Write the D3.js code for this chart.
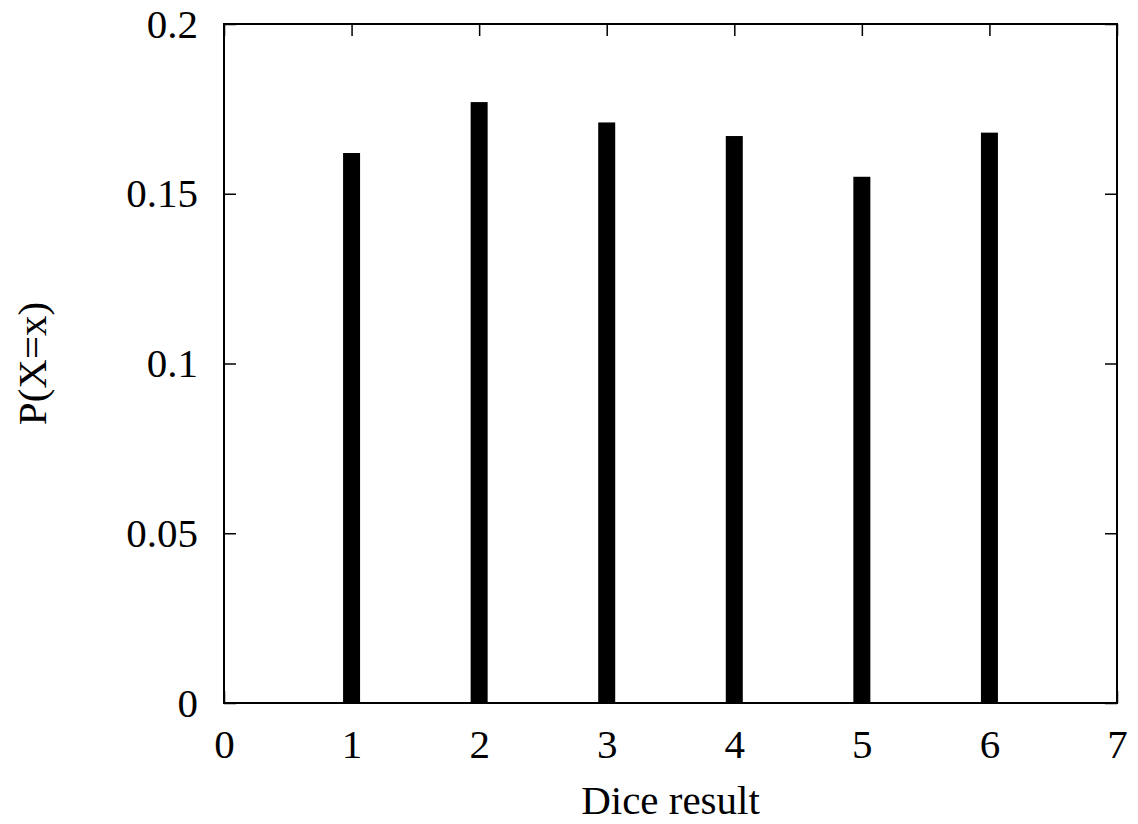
<!DOCTYPE html>
<html>
<head>
<meta charset="utf-8">
<script src="https://d3js.org/d3.v7.min.js"></script>
<style>
  body { margin: 0; background: #fff; }
  text { font-family: "Liberation Serif", "Times New Roman", serif; fill: #000; }
</style>
</head>
<body>
<div id="chart"></div>
<script>
// dice outcomes and their observed relative frequencies
const faces = [1, 2, 3, 4, 5, 6];
const probs = [0.162, 0.177, 0.171, 0.167, 0.155, 0.168];
const xTicks = [0, 1, 2, 3, 4, 5, 6, 7];
const yTicks = [0, 0.05, 0.1, 0.15, 0.2];

const width = 1138, height = 824;
const margin = { top: 24, right: 21, bottom: 121, left: 224 };
const w = width - margin.left - margin.right;
const h = height - margin.top - margin.bottom;

const svg = d3.select("#chart").append("svg")
    .attr("width", width)
    .attr("height", height);

const g = svg.append("g")
    .attr("transform", `translate(${margin.left},${margin.top})`);

const x = d3.scaleLinear().domain([0, 7]).range([0, w]);
const y = d3.scaleLinear().domain([0, 0.2]).range([h, 0]);

const barW = 17;

// bars
g.selectAll("rect.bar")
    .data(faces)
    .enter()
    .append("rect")
    .attr("class", "bar")
    .attr("x", (d) => x(d) - barW / 2)
    .attr("y", (d, i) => y(probs[i]))
    .attr("width", barW)
    .attr("height", (d, i) => h - y(probs[i]))
    .style("fill", "#000");

// axes: ticks point inward, mirrored on top/right
const fontSize = "41px";
const xAxis = d3.axisBottom(x).tickValues(xTicks).tickSize(-12).tickPadding(26).tickFormat(d3.format("d"));
const xTop = d3.axisTop(x).tickValues(xTicks).tickSize(-12).tickFormat("");
const yAxis = d3.axisLeft(y).tickValues(yTicks).tickSize(-12).tickPadding(26).tickFormat((d) => d === 0 ? "0" : String(+d.toFixed(2)));
const yRight = d3.axisRight(y).tickValues(yTicks).tickSize(-12).tickFormat("");

const gx = g.append("g").attr("transform", `translate(0,${h})`).call(xAxis);
g.append("g").call(xTop);
const gy = g.append("g").call(yAxis);
g.append("g").attr("transform", `translate(${w},0)`).call(yRight);

g.selectAll(".domain").remove();
g.selectAll(".tick line").style("stroke", "#000").style("stroke-width", 1.5);
gx.selectAll("text").style("font-size", fontSize);
gy.selectAll("text").style("font-size", fontSize);

// frame
g.append("rect")
    .attr("x", 0).attr("y", 0)
    .attr("width", w).attr("height", h)
    .style("fill", "none")
    .style("stroke", "#000")
    .style("stroke-width", 2);

// axis titles
svg.append("text")
    .attr("x", margin.left + w / 2)
    .attr("y", 814)
    .attr("text-anchor", "middle")
    .style("font-size", fontSize)
    .text("Dice result");

svg.append("text")
    .attr("transform", `translate(46,${margin.top + h / 2}) rotate(-90)`)
    .attr("text-anchor", "middle")
    .style("font-size", fontSize)
    .text("P(X=x)");
</script>
</body>
</html>
